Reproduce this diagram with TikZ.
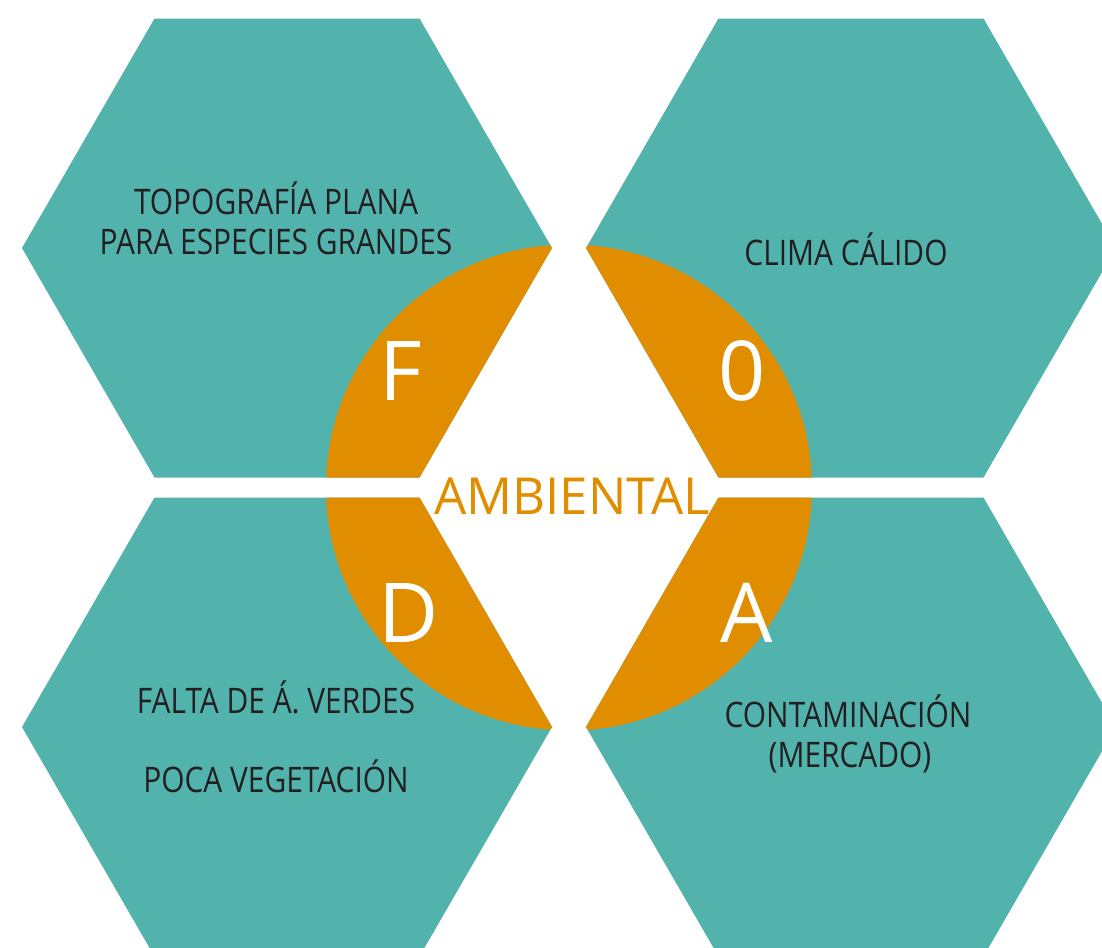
\documentclass[tikz,border=0pt]{standalone}
\usepackage{fontspec}
\setmainfont{Open Sans}[FakeStretch=0.85]
\newfontfamily\ambfont{Open Sans}
\definecolor{hexteal}{HTML}{52B3AD}
\definecolor{fodaorange}{HTML}{E08E00}
\definecolor{txtdark}{HTML}{231F20}
\begin{document}
\begin{tikzpicture}[x=0.01cm,y=-0.01cm]

    \tikzset{
      hexa/.style={fill=hexteal},
      item/.style={anchor=base,text=txtdark,inner sep=0pt,
        font=\fontsize{10}{12}\selectfont},
      letra/.style={anchor=base,text=white,inner sep=0pt,
        font=\ambfont\fontsize{23.5}{28}\selectfont},
    }
    \useasboundingbox (0,0) rectangle (1102,948);
    \clip (0,0) rectangle (1102,948);
    % hexagons
    \foreach \cx/\cy in {287/248, 851/248, 287/727, 851/727}
      \fill[hexa] (\cx,\cy) +(0:265) -- +(60:265) -- +(120:265) -- +(180:265) -- +(240:265) -- +(300:265) -- cycle;
    % orange disc, only where the hexagons are
    \begin{scope}
      \clip \foreach \cx/\cy in {287/248, 851/248, 287/727, 851/727}
        {(\cx,\cy) +(0:265) -- +(60:265) -- +(120:265) -- +(180:265) -- +(240:265) -- +(300:265) -- cycle};
      \fill[fodaorange] (569,487.5) circle (243);
    \end{scope}
    % letters
    \node[letra] (f) at (401,400) {F};
    \node[letra] (o) at (742,400) {0};
    \node[letra] (d) at (409,642) {D};
    \node[letra] (a) at (747,642) {A};
    \node[anchor=base,text=fodaorange,inner sep=0pt,font=\ambfont\fontsize{14.5}{17}\selectfont] (amb) at (572,514) {AMBIENTAL};
    % texts
    \node[item] (f1) at (276,214) {TOPOGRAFÍA PLANA};
    \node[item] (f2) at (276,254) {PARA ESPECIES GRANDES};
    \node[item] (o1) at (846,265) {CLIMA CÁLIDO};
    \node[item] (d1) at (276,713) {FALTA DE Á. VERDES};
    \node[item] (d2) at (276,792) {POCA VEGETACIÓN};
    \node[item] (a1) at (848,727) {CONTAMINACIÓN};
    \node[item] (a2) at (850,767) {(MERCADO)};

\end{tikzpicture}
\end{document}
